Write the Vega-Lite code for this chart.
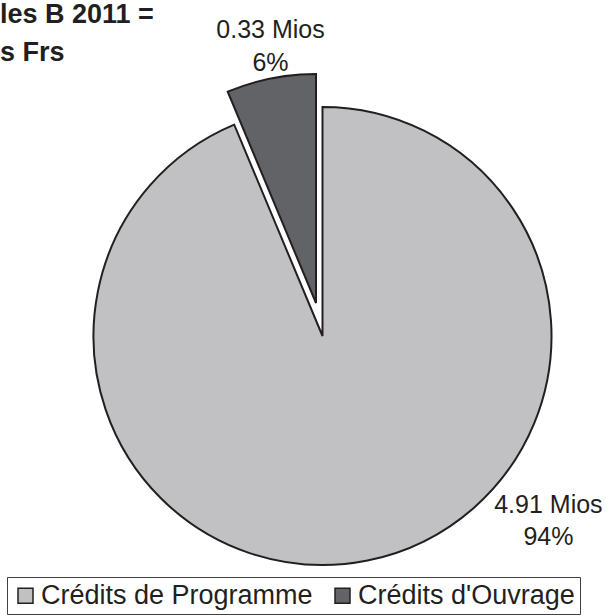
{
  "$schema": "https://vega.github.io/schema/vega-lite/v6.json",
  "width": 567,
  "height": 558,
  "autosize": "none",
  "padding": {"left": 39, "top": 57, "right": 0, "bottom": 0},
  "background": "white",
  "title": {
    "text": ["les B 2011 =", "s Frs"],
    "anchor": "start",
    "frame": "group",
    "font": "Liberation Sans",
    "fontSize": 27,
    "fontWeight": "bold",
    "color": "#231f20",
    "lineHeight": 38,
    "offset": 0,
    "dx": -39,
    "dy": 49
  },
  "config": {"view": {"stroke": null}},
  "data": {
    "values": [
      {"credit": "Crédits de Programme", "mios": 4.91, "pct": 94},
      {"credit": "Crédits d'Ouvrage", "mios": 0.33, "pct": 6}
    ]
  },
  "transform": [
    {"stack": "mios", "groupby": [], "sort": [{"field": "mios", "order": "descending"}], "as": ["t0", "t1"]},
    {"calculate": "[format(datum.mios, '.2f') + ' Mios', datum.pct + '%']", "as": "lbl"}
  ],
  "layer": [
    {
      "transform": [{"filter": "datum.credit === 'Crédits de Programme'"}],
      "mark": {"type": "arc", "outerRadius": 229, "stroke": "#231f20", "strokeWidth": 2},
      "encoding": {
        "theta": {"field": "t0", "type": "quantitative", "scale": {"domain": [0, 5.24]}},
        "theta2": {"field": "t1"},
        "color": {
          "field": "credit",
          "type": "nominal",
          "scale": {"domain": ["Crédits de Programme", "Crédits d'Ouvrage"], "range": ["#c1c1c3", "#626366"]},
          "legend": {
            "orient": "none",
            "legendX": -32,
            "legendY": 520,
            "direction": "horizontal",
            "title": null,
            "padding": 5,
            "strokeColor": "#404040",
            "fillColor": "white",
            "symbolType": "square",
            "symbolSize": 225,
            "symbolStrokeColor": "#231f20",
            "symbolStrokeWidth": 1.5,
            "symbolOpacity": 1,
            "labelFont": "Liberation Sans",
            "labelFontSize": 27,
            "labelColor": "#231f20",
            "labelOffset": 2,
            "labelLimit": 400,
            "columnPadding": 16
          }
        }
      }
    },
    {
      "transform": [{"filter": "datum.credit === \"Crédits d'Ouvrage\""}],
      "mark": {"type": "arc", "outerRadius": 229, "stroke": "#231f20", "strokeWidth": 2, "xOffset": -6.5, "yOffset": -33},
      "encoding": {
        "theta": {"field": "t0", "type": "quantitative", "scale": {"domain": [0, 5.24]}},
        "theta2": {"field": "t1"},
        "color": {"field": "credit", "type": "nominal"}
      }
    },
    {
      "transform": [{"filter": "datum.credit === 'Crédits de Programme'"}],
      "mark": {"type": "text", "radius": 292, "thetaOffset": 2.257, "dy": -16.5, "font": "Liberation Sans", "fontSize": 25, "lineHeight": 32, "align": "center", "baseline": "middle", "color": "#231f20"},
      "encoding": {
        "theta": {"field": "t0", "type": "quantitative", "scale": {"domain": [0, 5.24]}},
        "text": {"field": "lbl"}
      }
    },
    {
      "transform": [{"filter": "datum.credit === \"Crédits d'Ouvrage\""}],
      "mark": {"type": "text", "radius": 294, "thetaOffset": 0.218, "dy": -16.5, "font": "Liberation Sans", "fontSize": 25, "lineHeight": 33, "align": "center", "baseline": "middle", "color": "#231f20"},
      "encoding": {
        "theta": {"field": "t0", "type": "quantitative", "scale": {"domain": [0, 5.24]}},
        "text": {"field": "lbl"}
      }
    }
  ]
}
